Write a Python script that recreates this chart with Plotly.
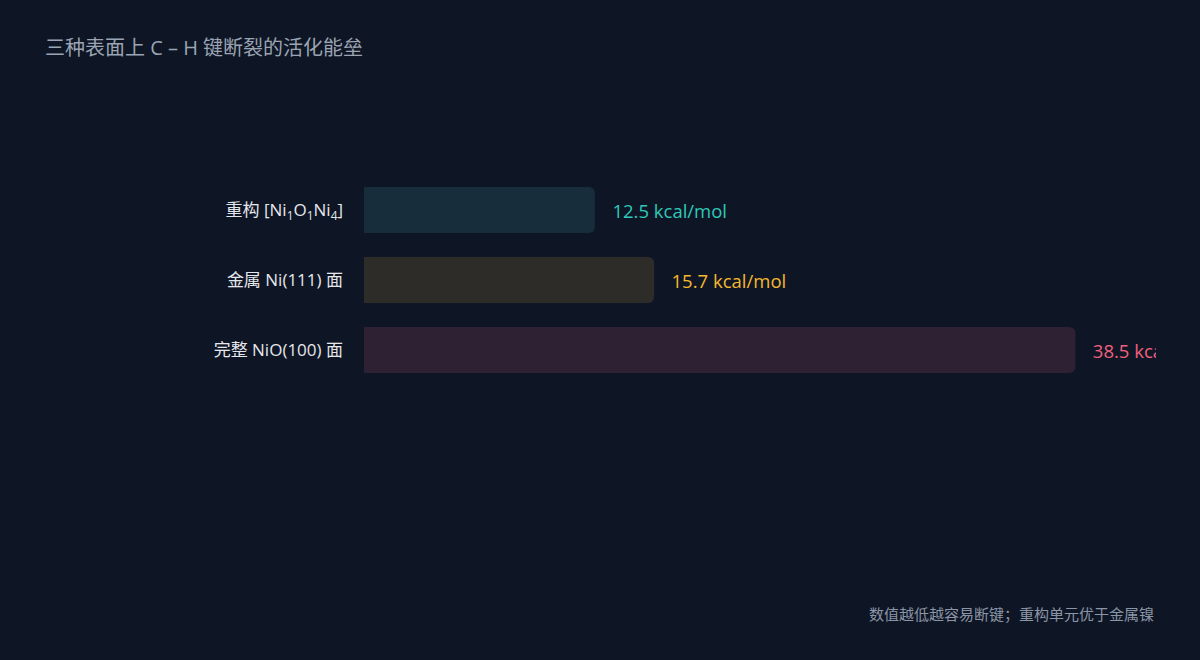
import plotly.graph_objects as go

# activation barriers for C-H bond breaking, kcal/mol
surfaces = ['完整 NiO(100) 面', '金属 Ni(111) 面', '重构 [Ni<sub>1</sub>O<sub>1</sub>Ni<sub>4</sub>]']
barriers = [38.5, 15.7, 12.5]
bar_colors = ['#2f2134', '#2d2c28', '#172d3b']
text_colors = ['#f0607e', '#f5b82e', '#2ec9b8']

BG = '#0e1525'
FONT = 'Open Sans, Noto Sans CJK SC, sans-serif'

# plot area in pixels
L, R, T, B = 364, 44, 175, 275
W, H = 1200, 660


def px_to_paper(x, y):
    return (x - L) / (W - L - R), 1 - (y - T) / (H - T - B)


fig = go.Figure()
fig.add_trace(go.Bar(
    x=barriers,
    y=surfaces,
    orientation='h',
    width=0.66,
    marker=dict(color=bar_colors, line=dict(width=0)),
    text=[f'&nbsp;&nbsp;&nbsp;{v:.1f} kcal/mol' for v in barriers],
    textposition='outside',
    textfont=dict(color=text_colors, size=18.5, family=FONT),
    cliponaxis=True,
    hoverinfo='skip',
))

tx, ty = px_to_paper(43, 48)
fx, fy = px_to_paper(1156, 614)

fig.update_layout(
    width=W, height=H,
    paper_bgcolor=BG, plot_bgcolor=BG,
    margin=dict(l=L, r=R, t=T, b=B),
    barcornerradius=6,
    showlegend=False,
    font=dict(family=FONT, color='#e5e7eb'),
    xaxis=dict(range=[0, 42.86], visible=False, fixedrange=True),
    yaxis=dict(range=[-0.5, 2.5], showgrid=False, zeroline=False, showline=False,
               ticks='', ticklabelstandoff=20,
               tickfont=dict(size=17, color='#e5e7eb'), fixedrange=True),
    annotations=[
        dict(text='三种表面上 C – H 键断裂的活化能垒', x=tx, y=ty,
             xref='paper', yref='paper', showarrow=False,
             xanchor='left', yanchor='middle',
             font=dict(size=20, color='#9aa4b2', family=FONT)),
        dict(text='数值越低越容易断键；重构单元优于金属镍', x=fx, y=fy,
             xref='paper', yref='paper', showarrow=False,
             xanchor='right', yanchor='middle',
             font=dict(size=15, color='#8b95a5', family=FONT)),
    ],
)

fig.write_html('out.html', config={'displayModeBar': False},
               post_script="document.body.style.margin='0';")
